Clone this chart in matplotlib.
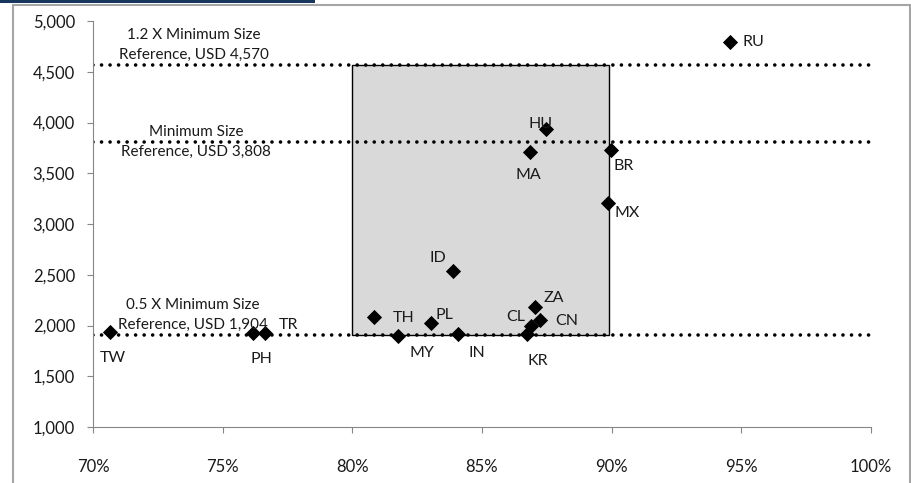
import matplotlib
matplotlib.use("Agg")
import matplotlib.pyplot as plt
from matplotlib.patches import Rectangle
from matplotlib.ticker import FuncFormatter

plt.rcParams["font.family"] = ["Lato", "DejaVu Sans"]

# country, x share, y size (USD)
countries = ["RU", "HU", "MA", "BR", "MX", "ID", "TH", "MY", "PL", "IN",
             "ZA", "CN", "CL", "KR", "TW", "PH", "TR"]
share = [0.9456, 0.8745, 0.8685, 0.8997, 0.8987, 0.8387, 0.8085, 0.8177, 0.8303, 0.8406,
         0.8704, 0.8724, 0.8688, 0.8675, 0.7066, 0.7618, 0.7663]
size_usd = [4793, 3935, 3706, 3729, 3204, 2537, 2087, 1897, 2021, 1913,
            2179, 2050, 1995, 1920, 1939, 1923, 1923]
# label offsets in pixels (dx, dy, ha)
label_off = {"RU": (13, 0, "left"), "HU": (-5, 5, "center"), "MA": (-2, -23, "center"),
             "BR": (3, -16, "left"), "MX": (6, -10, "left"), "ID": (-15, 13, "center"),
             "TH": (18, -1, "left"), "MY": (24, -17, "center"), "PL": (14, 8, "center"),
             "IN": (19, -19, "center"), "ZA": (19, 9, "center"), "CN": (27, -1, "center"),
             "CL": (-15, 9, "center"), "KR": (10, -27, "center"), "TW": (3, -26, "center"),
             "PH": (8, -26, "center"), "TR": (24, 8, "center")}

ref_levels = [4570, 3808, 1904]
box_x = (0.80, 0.899)

fig = plt.figure(figsize=(9.12, 4.83), dpi=100)
W, H = 912, 483
ax = fig.add_axes([93 / W, 56 / H, 778 / W, 406 / H])

# outer frame and blue strip
fig.patches.append(Rectangle((13 / W, -0.05), 897 / W, 1.05 - 5 / H, transform=fig.transFigure,
                             fill=False, edgecolor="#a6a6a6", lw=1.5))
fig.patches.append(Rectangle((0, 1 - 2.5 / H), 315 / W, 2.5 / H, transform=fig.transFigure,
                             facecolor="#17365d", edgecolor="none"))

ax.add_patch(Rectangle((box_x[0], ref_levels[2]), box_x[1] - box_x[0],
                       ref_levels[0] - ref_levels[2], facecolor="#d9d9d9",
                       edgecolor="black", lw=1.0, zorder=1))

for lv in ref_levels:
    ax.plot([0.70, 1.00], [lv, lv], color="black", lw=2.6,
            linestyle=(0, (0.01, 2.35)), dash_capstyle="round", zorder=2)

ax.scatter(share, size_usd, marker="D", s=60, color="black", zorder=3, linewidths=0)
for c, x, y in zip(countries, share, size_usd):
    dx, dy, ha = label_off[c]
    ax.annotate(c, (x, y), xytext=(dx, dy), textcoords="offset pixels",
                ha=ha, va="center", fontsize=11.5, color="#1a1a1a", zorder=4)

ax.text(0.739, 4600, "1.2 X Minimum Size\nReference, USD 4,570", ha="center", va="bottom",
        fontsize=11, linespacing=1.55, color="#1a1a1a")
ax.text(0.7397, 3808, "Minimum Size\nReference, USD 3,808", ha="center", va="center",
        fontsize=11, linespacing=1.55, color="#1a1a1a")
ax.text(0.7385, 1935, "0.5 X Minimum Size\nReference, USD 1,904", ha="center", va="bottom",
        fontsize=11, linespacing=1.55, color="#1a1a1a")

ax.set_xlim(0.70, 1.00)
ax.set_ylim(1000, 5000)
ax.set_xticks([0.70, 0.75, 0.80, 0.85, 0.90, 0.95, 1.00])
ax.set_yticks(range(1000, 5001, 500))
ax.xaxis.set_major_formatter(FuncFormatter(lambda v, p: f"{v * 100:.0f}%"))
ax.yaxis.set_major_formatter(FuncFormatter(lambda v, p: f"{v:,.0f}"))
for s in ["top", "right"]:
    ax.spines[s].set_visible(False)
for s in ["left", "bottom"]:
    ax.spines[s].set_color("#868686")
ax.tick_params(axis="both", direction="out", length=4, color="#868686",
               labelsize=12, labelcolor="#1a1a1a")
ax.tick_params(axis="y", pad=9)
ax.tick_params(axis="x", pad=19)

fig.savefig("out.png", dpi=100)
